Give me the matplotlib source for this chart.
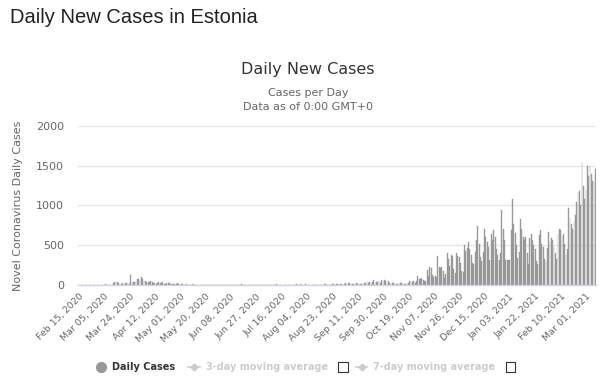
import matplotlib
matplotlib.use("Agg")
import matplotlib.pyplot as plt
from matplotlib.lines import Line2D
from matplotlib.patches import Rectangle
import pandas as pd

start_date = "2020-02-15"

# daily new cases
feb_2020 = [0, 0, 0, 0, 0, 0, 0, 0, 0, 0, 0, 0, 1, 0, 0]
mar_2020 = [0, 0, 1, 0, 0, 7, 0, 0, 0, 3,
            0, 27, 38, 41, 36, 20, 12, 15, 25, 16,
            23, 20, 26, 17, 126, 34, 41, 40, 37, 70, 69]
apr_2020 = [58, 95, 71, 50, 54, 38, 35, 33, 54, 42, 31, 29, 16, 23, 39,
            25, 28, 37, 18, 14, 26, 30, 24, 16, 11, 8, 8, 10, 19, 15]
may_2020 = [5, 6, 9, 4, 3, 6, 5, 2, 4, 8, 3, 2, 3, 1, 4, 0,
            2, 1, 0, 2, 0, 1, 4, 2, 1, 2, 1, 2, 1, 1, 0]
jun_2020 = [0, 2, 0, 0, 1, 1, 0, 3, 1, 0, 2, 0, 0, 1, 0,
            6, 3, 0, 0, 1, 0, 2, 1, 0, 0, 0, 1, 2, 0, 0]
jul_2020 = [0, 1, 2, 0, 4, 1, 0, 0, 1, 2, 3, 6, 2, 0, 1, 2,
            0, 4, 1, 2, 0, 3, 2, 0, 5, 8, 12, 0, 0, 17, 5]
aug_2020 = [3, 0, 18, 2, 3, 4, 0, 0, 5, 8, 2, 1, 4, 3, 2, 5,
            9, 11, 6, 2, 1, 9, 10, 14, 14, 13, 6, 12, 8, 7, 3]
sep_2020 = [12, 23, 12, 24, 19, 30, 11, 13, 31, 22, 16, 20, 14, 9, 26,
            25, 30, 52, 31, 33, 23, 35, 58, 31, 32, 41, 55, 26, 61, 45]
oct_2020 = [60, 47, 22, 50, 29, 28, 27, 26, 30, 15, 17, 20, 28, 31, 23, 16,
            12, 25, 28, 45, 56, 41, 48, 30, 45, 109, 74, 78, 83, 68, 45]
nov_2020 = [55, 190, 110, 230, 210, 120, 105, 110, 100, 365, 230, 210, 225, 170, 90,
            140, 400, 330, 240, 380, 360, 200, 150, 400, 360, 350, 280, 180, 160, 500]
dec_2020 = [430, 470, 540, 458, 380, 275, 270, 420, 560, 737, 520, 350, 300, 420, 708, 604,
            540, 480, 315, 646, 560, 687, 600, 450, 380, 320, 400, 946, 708, 560, 320]
jan_2021 = [320, 310, 310, 687, 1083, 770, 650, 500, 340, 420, 833, 700, 604, 560, 600, 400,
            270, 590, 646, 560, 500, 450, 300, 270, 625, 687, 520, 480, 330, 300, 460]
feb_2021 = [665, 540, 590, 570, 480, 400, 330, 646, 708, 687, 620, 646, 520, 380,
            450, 971, 840, 770, 700, 810, 880, 1041, 1166, 1187, 1000, 1541, 1250, 1083]
mar_2021 = [1200, 1500, 1375, 1500, 1395, 1310, 1290, 1458]

daily_cases = (feb_2020 + mar_2020 + apr_2020 + may_2020 + jun_2020 + jul_2020
               + aug_2020 + sep_2020 + oct_2020 + nov_2020 + dec_2020
               + jan_2021 + feb_2021 + mar_2021)
dates = pd.date_range(start_date, periods=len(daily_cases))
date_labels = [d.strftime("%b %d, %Y") for d in dates]
y_ticks = [0, 500, 1000, 1500, 2000]

fig = plt.figure(figsize=(6, 3.82), dpi=100)
ax = fig.add_axes([0.13, 0.254, 0.8633, 0.4163])

x = list(range(len(daily_cases)))
ax.bar(x, daily_cases, width=0.62, color="#a3a3a3", edgecolor="#8a8a8a", linewidth=0.25)

ax.set_xlim(-0.5, len(daily_cases) - 0.5)
ax.set_ylim(0, 2000)
ax.set_yticks(y_ticks)
ax.set_yticklabels([str(v) for v in y_ticks], color="#666666", fontsize=8)
ax.yaxis.grid(True, color="#e6e6e6", linewidth=1)
ax.set_axisbelow(True)
ax.tick_params(axis="y", length=0, pad=10)

tick_pos = x[::19]
ax.set_xticks(tick_pos)
ax.set_xticklabels([date_labels[i] for i in tick_pos], rotation=45, ha="right",
                   rotation_mode="anchor", color="#666666", fontsize=6.8)
ax.tick_params(axis="x", length=0, pad=5)

for s in ["top", "right", "left"]:
    ax.spines[s].set_visible(False)
ax.spines["bottom"].set_color("#ccd6eb")
ax.spines["bottom"].set_linewidth(1)

ax.set_ylabel("Novel Coronavirus Daily Cases", color="#666666", fontsize=8, labelpad=9)

fig.text(0.017, 0.953, "Daily New Cases in Estonia", fontsize=14.5, color="#222222",
         family="Liberation Sans", va="center")
fig.text(0.513, 0.817, "Daily New Cases", fontsize=11.5, color="#333333", ha="center", va="center")
fig.text(0.513, 0.757, "Cases per Day", fontsize=8, color="#666666", ha="center", va="center")
fig.text(0.513, 0.72, "Data as of 0:00 GMT+0", fontsize=8, color="#666666", ha="center", va="center")

# legend
ly = 0.039
fig.add_artist(Line2D([0.168], [ly], marker="o", markersize=7, color="#999999",
                      transform=fig.transFigure))
fig.text(0.187, ly, "Daily Cases", fontsize=7, fontweight="bold", color="#333333", va="center")
fig.add_artist(Line2D([0.313, 0.333], [ly, ly], color="#cccccc", lw=1.2,
                      transform=fig.transFigure))
fig.add_artist(Line2D([0.323], [ly], marker="D", markersize=3.5, color="#cccccc",
                      transform=fig.transFigure))
fig.text(0.343, ly, "3-day moving average", fontsize=7, fontweight="bold", color="#cccccc", va="center")
fig.add_artist(Rectangle((0.564, ly - 0.013), 0.016, 0.026, fill=False, edgecolor="#333333",
                         linewidth=0.8, transform=fig.transFigure))
fig.add_artist(Line2D([0.593, 0.612], [ly, ly], color="#cccccc", lw=1.2,
                      transform=fig.transFigure))
fig.add_artist(Line2D([0.6025], [ly], marker="D", markersize=3.5, color="#cccccc",
                      transform=fig.transFigure))
fig.text(0.622, ly, "7-day moving average", fontsize=7, fontweight="bold", color="#cccccc", va="center")
fig.add_artist(Rectangle((0.843, ly - 0.013), 0.016, 0.026, fill=False, edgecolor="#333333",
                         linewidth=0.8, transform=fig.transFigure))

fig.savefig("out.png", dpi=100)
